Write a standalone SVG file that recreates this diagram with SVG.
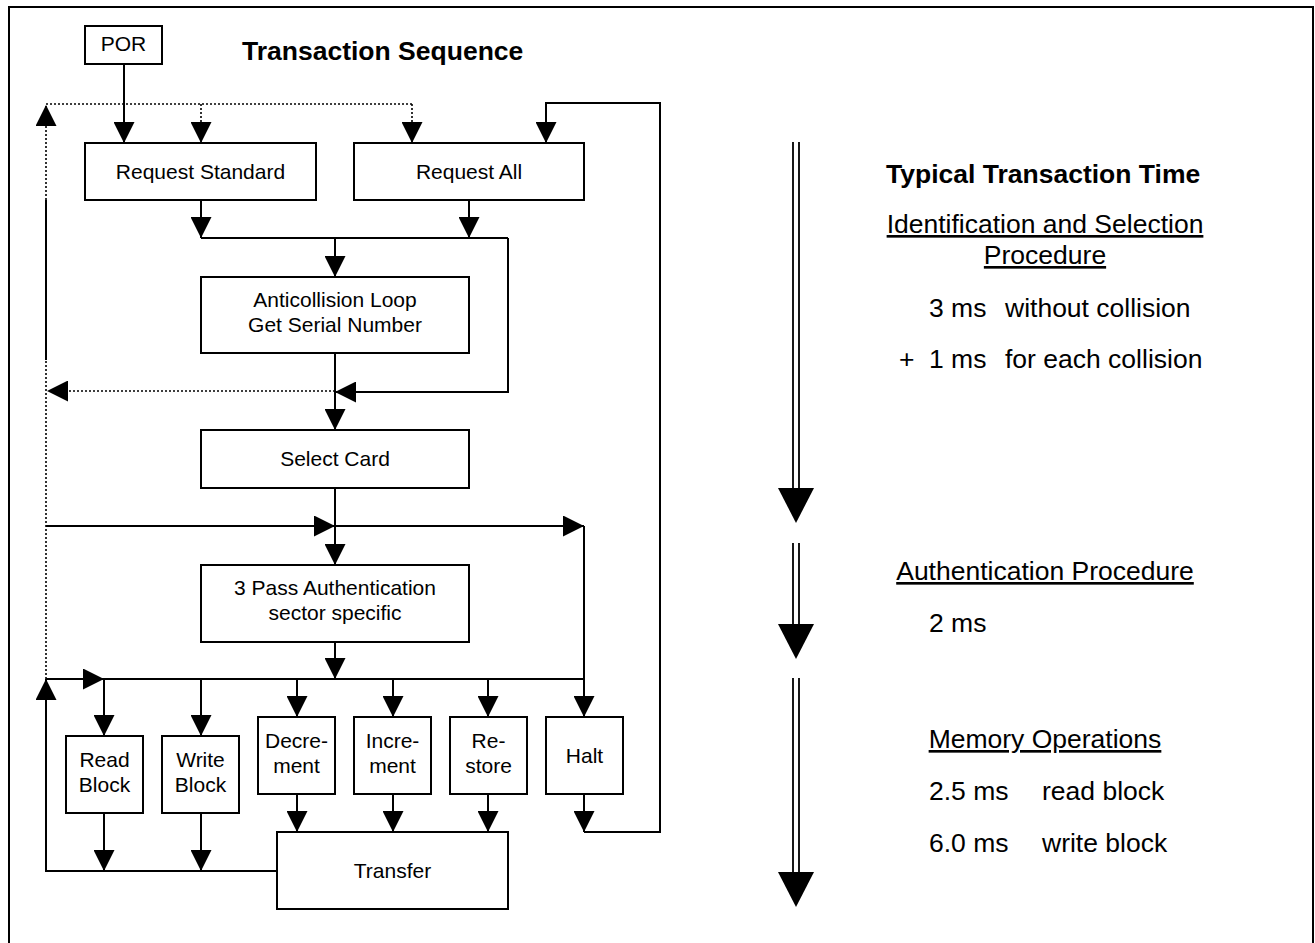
<svg xmlns="http://www.w3.org/2000/svg" width="1315" height="943" viewBox="0 0 1315 943">
<style>
.bx{fill:#fff;stroke:#000;stroke-width:2}
.t{font-family:"Liberation Sans",Arial,sans-serif;font-size:21px;fill:#000;text-anchor:middle}
.r{font-family:"Liberation Sans",Arial,sans-serif;font-size:26.5px;fill:#000}
.b{font-weight:bold}
.u{text-decoration:underline}
.s{fill:none;stroke:#000;stroke-width:2}
.d{fill:none;stroke:#000;stroke-width:1.6;stroke-dasharray:2 2}
.a{marker-end:url(#ah)}
.dl{fill:none;stroke:#000;stroke-width:1.8}
</style>
<defs>
<marker id="ah" markerUnits="userSpaceOnUse" markerWidth="21" markerHeight="21" refX="20" refY="10" orient="auto" viewBox="0 0 20 20">
<path d="M0,0 L20,10 L0,20 z" style="fill:#000;stroke:none"/>
</marker>
</defs>
<rect width="1315" height="943" fill="#fff"/>
<path d="M9,943 V7 H1313 V943" fill="none" stroke="#000" stroke-width="2"/>
<text class="r b" x="242" y="60">Transaction Sequence</text>

<g id="connectors">
<path class="s a" d="M124,64 V143"/>
<path class="d" d="M46,104 H412"/>
<path class="d a" d="M201,104 V143"/>
<path class="d a" d="M412,104 V143"/>
<path class="d a" d="M46,200 V105"/>
<path class="s" d="M46,360 V200"/>
<path class="d" d="M46,679 V360"/>
<path class="s a" d="M277,871 H46 V679"/>
<path class="d a" d="M335,391 H47"/>
<path class="s a" d="M508,238 V392 H335"/>
<path class="s a" d="M201,200 V238"/>
<path class="s a" d="M469,200 V238"/>
<path class="s" d="M201,238 H508"/>
<path class="s a" d="M335,238 V277"/>
<path class="s a" d="M335,353 V430"/>
<path class="s a" d="M335,488 V565"/>
<path class="s a" d="M46,526 H335"/>
<path class="s a" d="M335,526 H584"/>
<path class="s a" d="M584,526 V717"/>
<path class="s a" d="M335,642 V679"/>
<path class="s a" d="M46,679 H104"/>
<path class="s" d="M104,679 H584"/>
<path class="s a" d="M104,679 V736"/>
<path class="s a" d="M201,679 V736"/>
<path class="s a" d="M297,679 V717"/>
<path class="s a" d="M393,679 V717"/>
<path class="s a" d="M488,679 V717"/>
<path class="s a" d="M104,813 V871"/>
<path class="s a" d="M201,813 V871"/>
<path class="s a" d="M297,794 V832"/>
<path class="s a" d="M393,794 V832"/>
<path class="s a" d="M488,794 V832"/>
<path class="s a" d="M584,794 V832"/>
<path class="s a" d="M584,832 H660 V103 H546 V143"/>
</g>

<g id="por"><rect class="bx" x="85" y="26" width="77" height="38"/><text class="t" x="123.5" y="51">POR</text></g>
<g id="request-standard"><rect class="bx" x="85" y="143" width="231" height="57"/><text class="t" x="200.5" y="179">Request Standard</text></g>
<g id="request-all"><rect class="bx" x="354" y="143" width="230" height="57"/><text class="t" x="469" y="179">Request All</text></g>
<g id="anticollision"><rect class="bx" x="201" y="277" width="268" height="76"/><text class="t" x="335" y="307">Anticollision Loop</text><text class="t" x="335" y="332">Get Serial Number</text></g>
<g id="select-card"><rect class="bx" x="201" y="430" width="268" height="58"/><text class="t" x="335" y="466">Select Card</text></g>
<g id="authentication"><rect class="bx" x="201" y="565" width="268" height="77"/><text class="t" x="335" y="595">3 Pass Authentication</text><text class="t" x="335" y="620">sector specific</text></g>
<g id="read-block"><rect class="bx" x="66" y="736" width="77" height="77"/><text class="t" x="104.5" y="767">Read</text><text class="t" x="104.5" y="792">Block</text></g>
<g id="write-block"><rect class="bx" x="162" y="736" width="77" height="77"/><text class="t" x="200.5" y="767">Write</text><text class="t" x="200.5" y="792">Block</text></g>
<g id="decrement"><rect class="bx" x="258" y="717" width="77" height="77"/><text class="t" x="296.5" y="748">Decre-</text><text class="t" x="296.5" y="773">ment</text></g>
<g id="increment"><rect class="bx" x="354" y="717" width="77" height="77"/><text class="t" x="392.5" y="748">Incre-</text><text class="t" x="392.5" y="773">ment</text></g>
<g id="restore"><rect class="bx" x="450" y="717" width="77" height="77"/><text class="t" x="488.5" y="748">Re-</text><text class="t" x="488.5" y="773">store</text></g>
<g id="halt"><rect class="bx" x="546" y="717" width="77" height="77"/><text class="t" x="584.5" y="763">Halt</text></g>
<g id="transfer"><rect class="bx" x="277" y="832" width="231" height="77"/><text class="t" x="392.5" y="878">Transfer</text></g>

<g id="time-arrows">
<path class="dl" d="M793,142 V490 M799,142 V490"/>
<polygon points="778,488 814,488 796,523"/>
<path class="dl" d="M793,543 V626 M799,543 V626"/>
<polygon points="778,624 814,624 796,659"/>
<path class="dl" d="M793,678 V874 M799,678 V874"/>
<polygon points="778,872 814,872 796,907"/>
</g>

<g id="timing-text">
<text class="r b" x="886" y="183">Typical Transaction Time</text>
<text class="r u" x="1045" y="233" text-anchor="middle">Identification and Selection</text>
<text class="r u" x="1045" y="264" text-anchor="middle">Procedure</text>
<text class="r" y="317"><tspan x="929">3 ms</tspan><tspan x="1005">without collision</tspan></text>
<text class="r" y="368"><tspan x="899">+</tspan><tspan x="929">1 ms</tspan><tspan x="1005">for each collision</tspan></text>
<text class="r u" x="1045" y="580" text-anchor="middle">Authentication Procedure</text>
<text class="r" x="929" y="632">2 ms</text>
<text class="r u" x="1045" y="748" text-anchor="middle">Memory Operations</text>
<text class="r" y="800"><tspan x="929">2.5 ms</tspan><tspan x="1042">read block</tspan></text>
<text class="r" y="852"><tspan x="929">6.0 ms</tspan><tspan x="1042">write block</tspan></text>
</g>
</svg>
